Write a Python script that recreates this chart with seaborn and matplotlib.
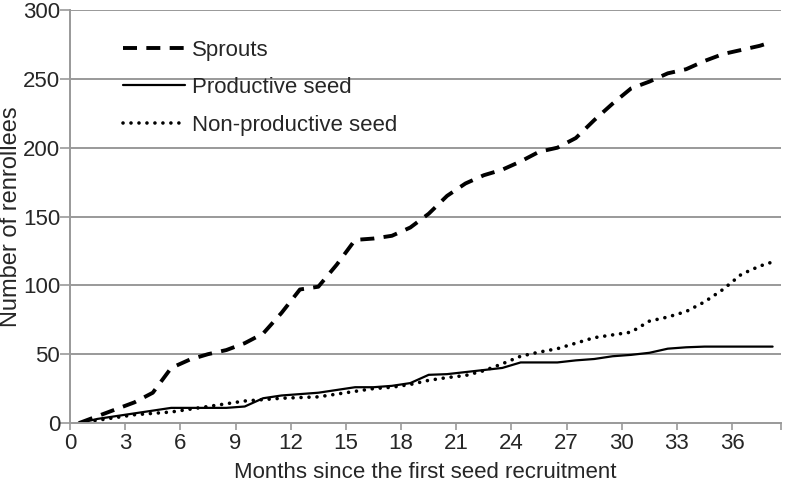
import matplotlib
matplotlib.use("Agg")
import matplotlib.pyplot as plt
import seaborn as sns

months = [0.5, 1.5, 2.5, 3.5, 4.5, 5.5, 6.5, 7.5, 8.5, 9.5,
          10.5, 11.5, 12.5, 13.5, 14.5, 15.5, 16.5, 17.5, 18.5, 19.5,
          20.5, 21.5, 22.5, 23.5, 24.5, 25.5, 26.5, 27.5, 28.5, 29.5,
          30.5, 31.5, 32.5, 33.5, 34.5, 35.5, 36.5, 37.5, 38.2]

sprouts = [0, 5, 10, 15, 22, 40, 46, 50, 53, 58,
           65, 80, 97, 99, 115, 133, 134, 136, 142, 152,
           165, 174, 180, 184, 190, 197, 200, 207, 220, 232,
           243, 248, 254, 257, 263, 268, 271, 274, 277]

productive = [0, 3, 5, 7, 9, 11, 11, 11, 11, 12,
              18, 20, 21, 22, 24, 26, 26, 27, 29, 35,
              35.5, 37, 38.5, 40, 44, 44, 44, 45.5, 46.5, 48.5,
              49.5, 51, 54, 55, 55.5, 55.5, 55.5, 55.5, 55.5]

non_productive = [0, 2, 4, 6, 7, 8, 10, 12, 14, 16,
                  17, 18, 18.5, 19, 21, 23, 25, 26, 28, 31,
                  33, 34.5, 38, 43, 48.5, 51.5, 54, 58, 62, 64,
                  66, 74, 77, 81, 88, 97, 108, 114, 117]

x_ticks = list(range(0, 37, 3))
y_ticks = list(range(0, 301, 50))


def main():
    sns.set_style("white")
    plt.rcParams['font.family'] = ['Liberation Sans', 'DejaVu Sans']
    narrow = ['Liberation Sans Narrow', 'Liberation Sans', 'DejaVu Sans']

    fig = plt.figure(figsize=(7.85, 4.86), dpi=100)
    ax = fig.add_axes([0.0892, 0.1296, 0.9058, 0.8498])

    grey = '#999999'
    for y in y_ticks[1:]:
        ax.axhline(y, color=grey, lw=1.4, zorder=0)

    sns.lineplot(x=months, y=sprouts, ax=ax, color='black', lw=2.8,
                 label='Sprouts')
    sns.lineplot(x=months, y=productive, ax=ax, color='black', lw=1.6,
                 label='Productive seed')
    sns.lineplot(x=months, y=non_productive, ax=ax, color='black', lw=2.6,
                 label='Non-productive seed')
    lines = ax.get_lines()[-3:]
    lines[0].set_dashes((3.6, 2.4))
    lines[0].set_dash_capstyle('butt')
    lines[2].set_linestyle((0, (0.01, 2.2)))
    lines[2].set_dash_capstyle('round')

    ax.set_xlim(0, 38.66)
    ax.set_ylim(0, 300)
    ax.set_xticks(x_ticks)
    ax.set_xticks([38.66], minor=True)
    ax.set_yticks(y_ticks)

    for side in ['top', 'right']:
        ax.spines[side].set_visible(False)
    for side in ['left', 'bottom']:
        ax.spines[side].set_color(grey)
        ax.spines[side].set_linewidth(1.4)

    ax.tick_params(axis='x', which='both', direction='out', length=5,
                   width=1.2, color=grey, labelsize=16, pad=2, bottom=True)
    ax.tick_params(axis='y', direction='out', length=7, width=1.2,
                   color=grey, labelsize=16, pad=0, left=True)
    for lab in ax.get_xticklabels() + ax.get_yticklabels():
        lab.set_family(narrow)

    ax.set_xlabel('Months since the first seed recruitment', fontsize=16)
    ax.xaxis.set_label_coords(0.5, -0.095)
    ax.set_ylabel('Number of renrollees', fontsize=17)
    ax.yaxis.set_label_coords(-0.068, 0.5)

    leg = ax.legend(loc='upper left', bbox_to_anchor=(0.062, 0.95), frameon=False,
                    fontsize=16, handlelength=2.8, handletextpad=0.3,
                    labelspacing=0.75, borderaxespad=0)
    for h in leg.get_lines():
        h.set_color('black')

    fig.savefig('out.png', dpi=100)


if __name__ == "__main__": main()
